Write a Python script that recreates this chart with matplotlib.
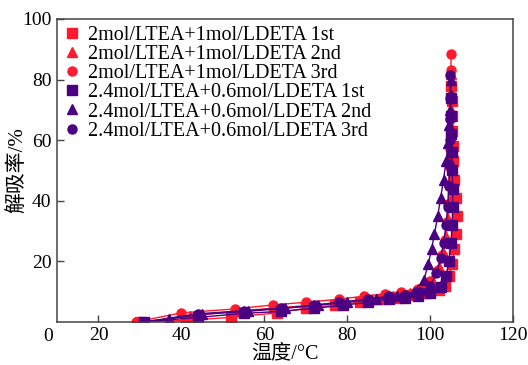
import matplotlib
matplotlib.use("Agg")
import matplotlib.pyplot as plt
from matplotlib.lines import Line2D

plt.rcParams['font.family'] = ['Liberation Serif', 'Noto Sans CJK SC']
plt.rcParams['axes.unicode_minus'] = False

RED = '#ff1a2e'
PURPLE = '#4b0082'

# 2mol/LTEA+1mol/LDETA
t_2_1 = [30, 41, 52, 63, 70, 77, 83, 88, 92, 96, 99, 102, 103.5, 104.5, 105.2, 105.8,
         106.3, 106.4, 106.1, 105.8, 105.6, 105.4, 105.3, 105.2, 105.2, 105.1]
r_2_1 = [0, 0.5, 1.5, 3, 4.5, 5.5, 6.5, 7.5, 8, 8.8, 9.5, 10.5, 12, 15, 19, 24,
         29, 35, 41, 47, 53, 58, 63, 68, 73, 78]
t_2_2 = [31, 42, 53, 62, 71, 79, 86, 91, 95, 98, 100.5, 102, 103, 103.8, 104.3, 104.7,
         105, 105.1, 105.2, 105.2, 105.1, 105.1, 105]
r_2_2 = [0, 2, 3.5, 4.5, 5.5, 6.5, 7.5, 8.5, 9.5, 11, 14, 18, 23, 28, 34, 40,
         46, 52, 58, 64, 70, 76, 82]
t_2_3 = [29, 40, 53, 62, 70, 78, 84, 89, 93, 97, 100, 101.8, 102.8, 103.5, 104, 104.3,
         104.5, 104.7, 104.8, 104.9, 105, 105, 105, 105, 105]
r_2_3 = [0, 3, 4.3, 5.6, 6.5, 7.5, 8.5, 9.2, 10, 11, 13.5, 17, 22, 27, 33, 39,
         45, 51, 57, 63, 68, 73, 78, 83, 88.5]

# 2.4mol/LTEA+0.6mol/LDETA
t_24_1 = [31, 44, 55, 64, 72, 79, 85, 90, 94, 97, 100, 102.5, 103.8, 104.5, 105, 105.3,
          105.4, 105.4, 105.3, 105.2, 105.1, 105, 104.9]
r_24_1 = [0, 1.5, 2.8, 3.5, 4.5, 5.5, 6.5, 7.5, 8, 8.5, 9.5, 11.5, 15, 20, 26, 32,
          38, 44, 50, 56, 62, 68, 74]
t_24_2 = [31, 37, 45, 56, 65, 73, 80, 87, 92, 96, 98.5, 99.5, 100.3, 101, 101.8, 102.5,
          103.2, 103.8, 104.3, 104.6, 104.8, 104.9, 105]
r_24_2 = [0, 1, 2.5, 3.5, 4.5, 5.5, 6.5, 7.5, 8.5, 10, 14, 19, 24, 29, 35, 41,
          47, 53, 59, 65, 70, 75, 80]
t_24_3 = [31, 44, 55, 64, 72, 78, 85, 90, 94, 97.5, 100, 101.5, 102.5, 103.2, 103.8, 104.2,
          104.5, 104.6, 104.7, 104.8, 104.8, 104.8]
r_24_3 = [0, 2.7, 3.7, 4.5, 5.5, 6.5, 7.5, 8.5, 9, 10, 12, 16, 21, 26, 32, 38,
          45, 52, 60, 67, 74, 81.5]

labels = ['2mol/LTEA+1mol/LDETA 1st', '2mol/LTEA+1mol/LDETA 2nd', '2mol/LTEA+1mol/LDETA 3rd',
          '2.4mol/LTEA+0.6mol/LDETA 1st', '2.4mol/LTEA+0.6mol/LDETA 2nd',
          '2.4mol/LTEA+0.6mol/LDETA 3rd']
series = [(t_2_1, r_2_1), (t_2_2, r_2_2), (t_2_3, r_2_3),
          (t_24_1, r_24_1), (t_24_2, r_24_2), (t_24_3, r_24_3)]
colors = [RED, RED, RED, PURPLE, PURPLE, PURPLE]
markers = ['s', '^', 'o', 's', '^', 'o']

fig = plt.figure(figsize=(5.28, 3.65), dpi=100)
ax = fig.add_axes([0.108, 0.118, 0.864, 0.830])

for (x, y), c, m in zip(series, colors, markers):
    ax.plot(x, y, color=c, marker=m, markersize=6.5, linewidth=1)

ax.set_xlim(10, 120)
ax.set_ylim(0, 100)
ax.set_xticks([20, 40, 60, 80, 100, 120])
ax.set_yticks([20, 40, 60, 80, 100])
ax.tick_params(direction='in', length=5, width=1, labelsize=14, pad=4, color='#444444')
for s in ax.spines.values():
    s.set_color('#444444')
    s.set_linewidth(1.1)
ax.text(-0.02, -0.048, '0', transform=ax.transAxes, ha='center', va='center', fontsize=14)

ax.set_xlabel('温度/°C', fontsize=14.5, labelpad=0)
ax.set_ylabel('解吸率/%', fontsize=15, labelpad=-3.5)

handles = [Line2D([], [], color=c, marker=m, linestyle='none', markersize=6.5)
           for c, m in zip(colors, markers)]
ax.legend(handles, labels, loc='upper left', frameon=False, fontsize=14.5,
          handlelength=0.8, handletextpad=0.4, labelspacing=0.0,
          borderaxespad=0.2, borderpad=0.15)

fig.savefig('out.png', dpi=100)
